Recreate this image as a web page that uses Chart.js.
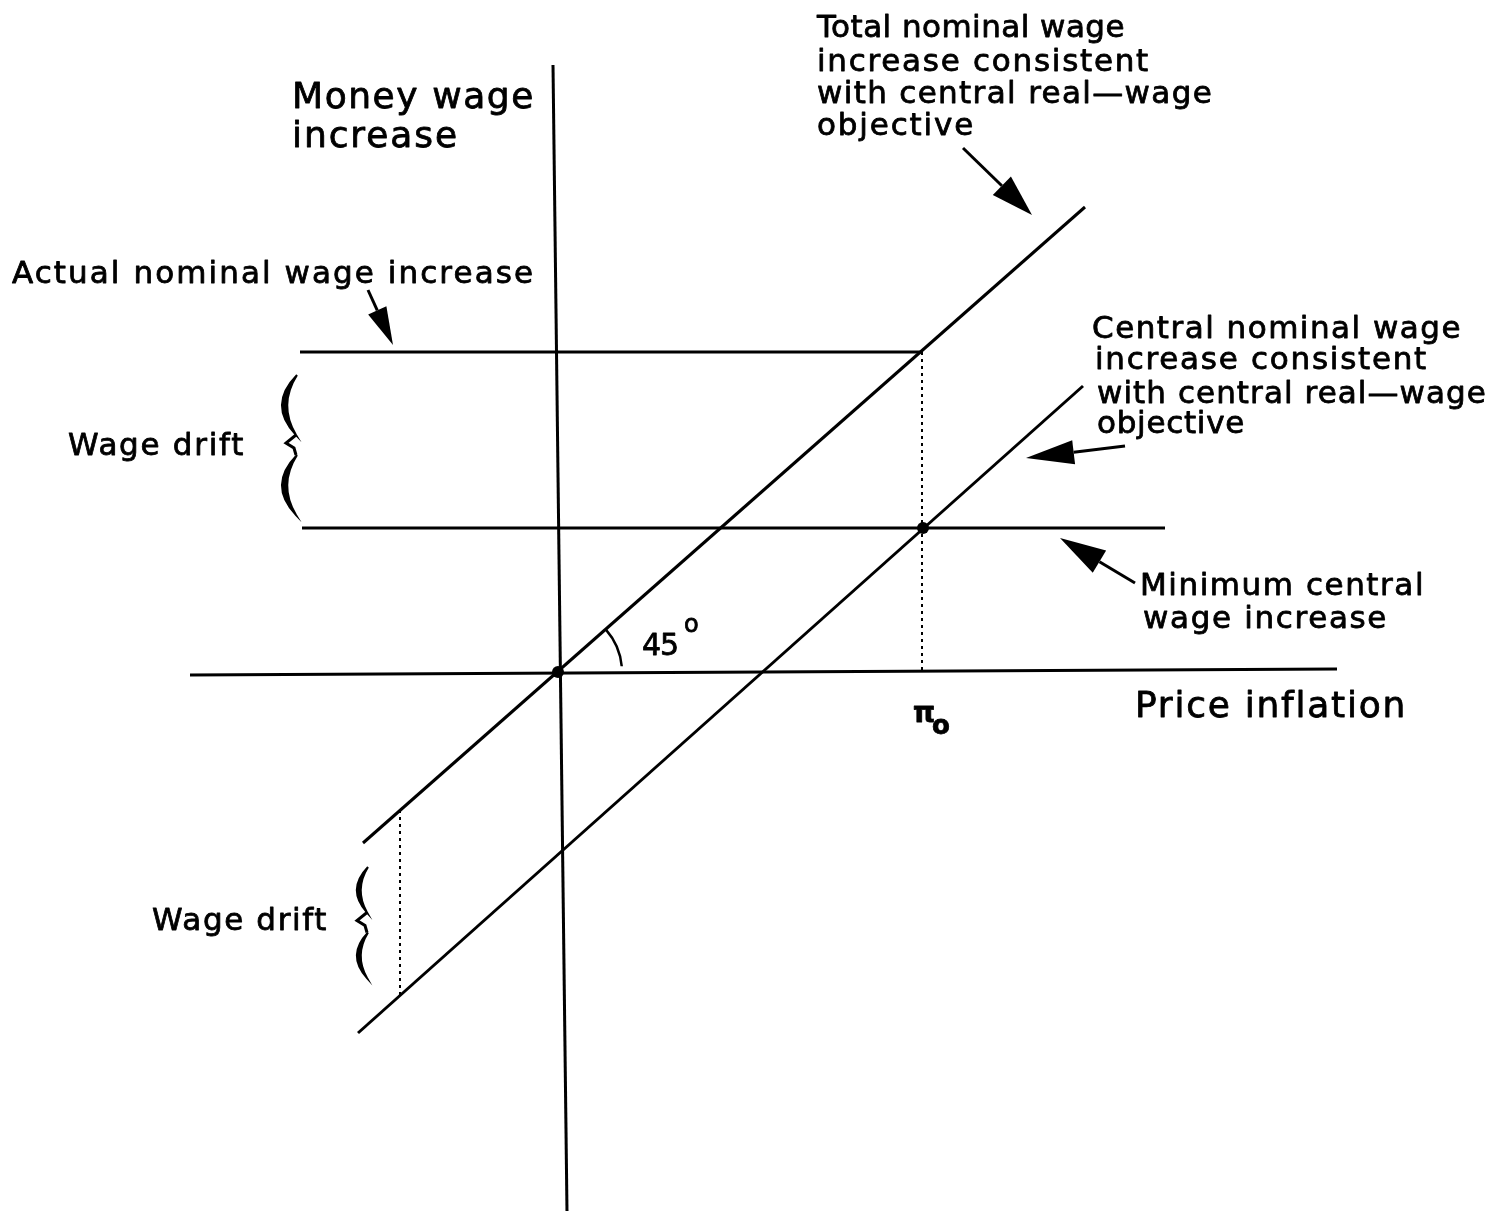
<!DOCTYPE html>
<html>
<head>
<meta charset="utf-8">
<script src="https://cdn.jsdelivr.net/npm/chart.js@4/dist/chart.umd.min.js"></script>
<style>
  html, body { margin: 0; padding: 0; background: #fff; }
  canvas { display: block; }
</style>
</head>
<body>
<canvas id="wageChart" width="1493" height="1211"></canvas>
<script>
// units: 1 = one tenth of the figure's price-inflation scale, origin where the axes cross
const priceAxis = [[-36.8, -0.3], [77.9, 0.3]];
const moneyAxis = [[-0.5, 60.7], [0.9, -53.9]];
const totalLine = [[-19.5, -17.1], [52.7, 46.5]];
const centralLine = [[-20.0, -36.1], [52.5, 28.6]];
const actualLevel = [[-25.8, 32.0], [36.4, 32.0]];
const minimumLevel = [[-25.6, 14.4], [60.7, 14.4]];
const dropAtPi0 = [[36.4, 32.0], [36.4, 0]];
const driftGap = [[-15.8, -13.8], [-15.8, -32.3]];
const markedPoints = [[0, 0], [36.5, 14.4]];

const X_RANGE = [-55.8, 93.5];
const Y_RANGE = [-53.9, 67.2];

const toXY = (pts) => pts.map(p => ({ x: p[0], y: p[1] }));

const solid = (pts) => ({
    data: toXY(pts), showLine: true, borderColor: '#000', borderWidth: 3,
    pointRadius: 0, fill: false
});
const dotted = (pts) => ({
    data: toXY(pts), showLine: true, borderColor: '#000', borderWidth: 2,
    borderDash: [3, 4], pointRadius: 0, fill: false
});

const FONT = '"DejaVu Sans", sans-serif';

const labels = [
    { t: 'Money wage', x: -26.6, y: 56.4, w: 243, size: 36 },
    { t: 'increase', x: -26.6, y: 52.5, w: 167, size: 36 },
    { t: 'Total nominal wage', x: 25.9, y: 63.5, w: 308, size: 31 },
    { t: 'increase consistent', x: 25.9, y: 60.1, w: 333, size: 31 },
    { t: 'with central real—wage', x: 25.9, y: 56.9, w: 396, size: 31 },
    { t: 'objective', x: 25.9, y: 53.7, w: 158, size: 31 },
    { t: 'Actual nominal wage increase', x: -54.6, y: 38.9, w: 523, size: 31 },
    { t: 'Central nominal wage', x: 53.4, y: 33.4, w: 370, size: 31 },
    { t: 'increase consistent', x: 53.7, y: 30.3, w: 333, size: 31 },
    { t: 'with central real—wage', x: 53.9, y: 26.9, w: 390, size: 31 },
    { t: 'objective', x: 53.9, y: 23.9, w: 148, size: 31 },
    { t: 'Wage drift', x: -49.0, y: 21.7, w: 177, size: 31 },
    { t: 'Minimum central', x: 58.2, y: 7.7, w: 285, size: 31 },
    { t: 'wage increase', x: 58.5, y: 4.4, w: 245, size: 31 },
    { t: 'Price inflation', x: 57.7, y: -4.5, w: 272, size: 36 },
    { t: 'Wage drift', x: -40.6, y: -25.8, w: 176, size: 31 },
    { t: '45', x: 8.4, y: 1.7, w: 36, size: 30 },
    { t: 'o', x: 12.6, y: 4.0, size: 24 },
    { t: 'π', x: 35.5, y: -5.0, size: 28, bold: true },
    { t: 'o', x: 37.4, y: -6.2, size: 26, bold: true }
];

// tail -> tip, head length / half width in px
const arrows = [
    { from: [-19.0, 38.2], to: [-16.5, 32.7], len: 38, half: 10 },
    { from: [40.5, 52.4], to: [47.4, 45.7], len: 42, half: 13 },
    { from: [56.7, 22.6], to: [46.8, 21.4], len: 48, half: 12 },
    { from: [57.7, 8.9], to: [50.2, 13.4], len: 46, half: 13 }
];

// braces: x of the ends, top and bottom y
const braces = [
    { x: -26.1, top: 29.7, bottom: 15.7, bulge: 19 },
    { x: -19.0, top: -19.5, bottom: -30.6, bulge: 14 }
];

const decorations = {
    id: 'decorations',
    afterDatasetsDraw(chart) {
        const ctx = chart.ctx;
        const xs = chart.scales.x, ys = chart.scales.y;
        const P = (x, y) => [xs.getPixelForValue(x), ys.getPixelForValue(y)];

        ctx.save();
        ctx.fillStyle = '#000';
        ctx.strokeStyle = '#000';

        // 45 degree arc
        const o = P(0, 0);
        const t0 = P(totalLine[0][0], totalLine[0][1]);
        const ang = Math.atan2(o[1] - t0[1], o[0] - t0[0]);
        ctx.lineWidth = 2.5;
        ctx.beginPath();
        ctx.arc(o[0], o[1], 64, ang, -0.09);
        ctx.stroke();

        // arrows
        arrows.forEach(a => {
            const [x0, y0] = P(a.from[0], a.from[1]);
            const [x1, y1] = P(a.to[0], a.to[1]);
            const d = Math.hypot(x1 - x0, y1 - y0);
            const ux = (x1 - x0) / d, uy = (y1 - y0) / d;
            const bx = x1 - ux * a.len, by = y1 - uy * a.len;
            ctx.lineWidth = 3;
            ctx.beginPath();
            ctx.moveTo(x0, y0);
            ctx.lineTo(bx, by);
            ctx.stroke();
            ctx.beginPath();
            ctx.moveTo(x1, y1);
            ctx.lineTo(bx - uy * a.half, by + ux * a.half);
            ctx.lineTo(bx + uy * a.half, by - ux * a.half);
            ctx.closePath();
            ctx.fill();
        });

        // braces
        braces.forEach(b => {
            const [bx, top] = P(b.x, b.top);
            const bottom = P(b.x, b.bottom)[1];
            const mid = (top + bottom) / 2;
            const bows = [[top, mid - 10], [mid + 10, bottom]];
            bows.forEach(([a, c]) => {
                const m = (a + c) / 2;
                ctx.beginPath();
                ctx.moveTo(bx, a);
                ctx.quadraticCurveTo(bx - b.bulge * 1.55, m, bx - 1, c);
                ctx.quadraticCurveTo(bx - b.bulge * 1.0, m, bx, a);
                ctx.fill();
                ctx.lineWidth = 2;
                ctx.stroke();
            });
            ctx.lineWidth = 3;
            ctx.beginPath();
            ctx.moveTo(bx - 1, mid - 10);
            ctx.lineTo(bx - 11, mid - 2);
            ctx.lineTo(bx - 3, mid + 3);
            ctx.lineTo(bx - 1, mid + 10);
            ctx.stroke();
        });

        // labels
        ctx.textBaseline = 'alphabetic';
        ctx.textAlign = 'left';
        ctx.lineWidth = 0.8;
        ctx.lineJoin = 'round';
        labels.forEach(l => {
            ctx.font = (l.bold ? 'bold ' : '') + l.size + 'px ' + FONT;
            ctx.letterSpacing = '0px';
            if (l.w) {
                const w = ctx.measureText(l.t).width;
                ctx.letterSpacing = ((l.w - w) / l.t.length).toFixed(2) + 'px';
            }
            const [px, py] = P(l.x, l.y);
            ctx.fillText(l.t, px, py);
            ctx.strokeText(l.t, px, py);
        });
        ctx.letterSpacing = '0px';
        ctx.restore();
    }
};

new Chart(document.getElementById('wageChart').getContext('2d'), {
    type: 'scatter',
    data: {
        datasets: [
            solid(priceAxis),
            solid(moneyAxis),
            solid(totalLine),
            solid(centralLine),
            solid(actualLevel),
            solid(minimumLevel),
            dotted(dropAtPi0),
            dotted(driftGap),
            {
                data: toXY(markedPoints), showLine: false, pointRadius: 6,
                pointBackgroundColor: '#000', pointBorderColor: '#000', pointBorderWidth: 0
            }
        ]
    },
    options: {
        responsive: false,
        maintainAspectRatio: false,
        animation: false,
        events: [],
        layout: { padding: 0, autoPadding: false },
        plugins: { legend: { display: false }, tooltip: { enabled: false } },
        scales: {
            x: { type: 'linear', display: false, min: X_RANGE[0], max: X_RANGE[1] },
            y: { type: 'linear', display: false, min: Y_RANGE[0], max: Y_RANGE[1] }
        }
    },
    plugins: [decorations]
});
</script>
</body>
</html>
